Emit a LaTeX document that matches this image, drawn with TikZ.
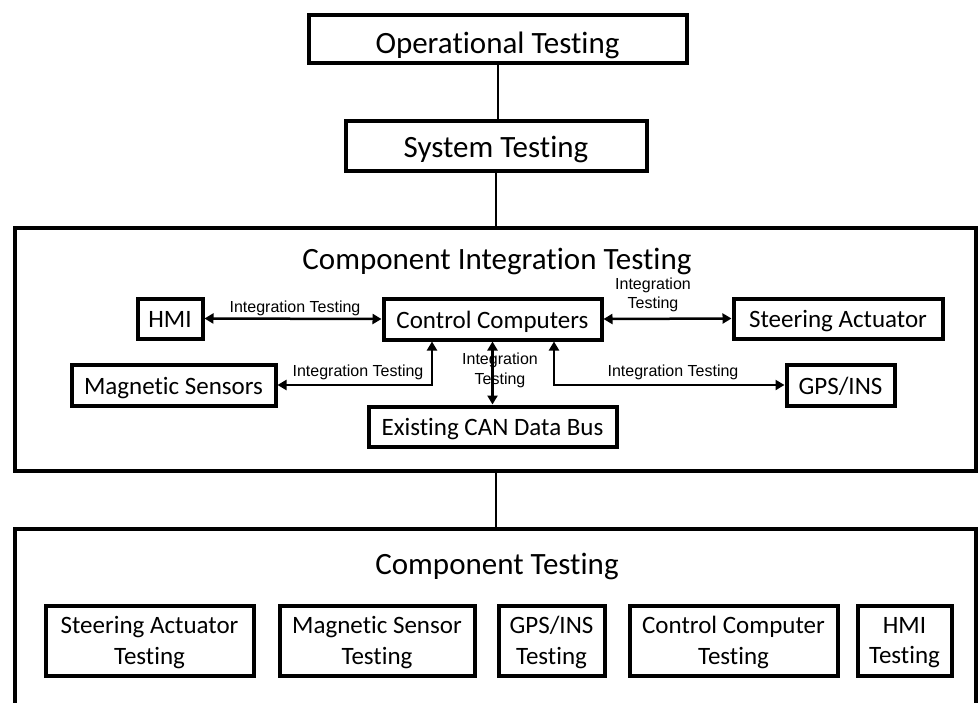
\documentclass[tikz,border=0pt]{standalone}
\usepackage{fontspec}
\setmainfont{Carlito}[Ligatures=NoCommon]
\newfontfamily\arialf{Liberation Sans}
\usetikzlibrary{arrows.meta,calc}
\begin{document}
\begin{tikzpicture}[x=1pt,y=-1pt,
  box/.style={draw,line width=4pt,inner sep=0pt,align=center,font=\fontsize{25}{30.5}\selectfont},
  onebox/.style={box,text height=20pt,text depth=2pt},
  twobox/.style={box,text depth=0pt},
  bigbox/.style={box,font=\fontsize{31}{37}\selectfont},
  frame/.style={draw,line width=4pt,inner sep=0pt},
  link/.style={line width=2pt},
  arr/.style={line width=2.5pt,{Triangle[length=9pt,width=10pt]}-{Triangle[length=9pt,width=10pt]}},
  lbl/.style={font=\arialf\fontsize{16}{19.5}\selectfont,align=center,inner sep=0pt},
  ttl/.style={font=\fontsize{31}{37}\selectfont,inner sep=0pt}]
\useasboundingbox (0,0) rectangle (979,702);
% top levels
\node[bigbox,text height=30pt,text depth=1pt,minimum width=378pt,minimum height=48pt] (op) at (497.5,38.5) {Operational Testing};
\node[bigbox,text height=25pt,text depth=2pt,minimum width=301pt,minimum height=50pt] (sys) at (496,145.5) {System Testing};
% component integration frame
\node[frame,minimum width=961pt,minimum height=243pt] (cit) at (495,349) {};
\node[ttl] (citt) at (497,261) {Component Integration Testing};
\node[onebox,minimum width=65pt,minimum height=40pt] (hmi) at (170,318.5) {HMI};
\node[onebox,minimum width=218pt,minimum height=41pt] (cc) at (492.5,319) {Control Computers};
\node[onebox,minimum width=209pt,minimum height=40pt] (sa) at (838,318.5) {Steering Actuator};
\node[onebox,minimum width=204pt,minimum height=41pt] (ms) at (173.5,385) {Magnetic Sensors};
\node[onebox,minimum width=108pt,minimum height=41pt] (gps) at (840.5,385) {GPS/INS};
\node[onebox,minimum width=248pt,minimum height=40pt] (can) at (492.5,426.5) {Existing CAN Data Bus};
% component testing frame
\node[frame,minimum width=961pt,minimum height=250pt] (ct) at (495,654) {};
\node[ttl] (ctt) at (497,566) {Component Testing};
\node[twobox,minimum width=208pt,minimum height=70pt] (sat) at (149.5,640.5) {Steering Actuator\\Testing};
\node[twobox,minimum width=195pt,minimum height=70pt] (mst) at (377,640.5) {Magnetic Sensor\\Testing};
\node[twobox,minimum width=106pt,minimum height=70pt] (gpst) at (551.5,640.5) {GPS/INS\\Testing};
\node[twobox,minimum width=208pt,minimum height=70pt] (cct) at (733.5,640.5) {Control Computer\\Testing};
\node[twobox,minimum width=94pt,minimum height=70pt] (hmit) at (904.5,640.5) {HMI\\Testing};
% hierarchy links
\draw[link] (op.south) -- (op.south |- sys.north);
\draw[link] (sys.south) -- (sys.south |- cit.north);
\draw[link] (sys.south |- cit.south) -- (sys.south |- ct.north);
% integration labels
\node[lbl] (l1) at (295,308) {Integration Testing};
\node[lbl] (l2) at (653,295) {Integration\\Testing};
\node[lbl] (l3) at (358,372) {Integration Testing};
\node[lbl] (l4) at (673,372) {Integration Testing};
\node[lbl] (l5) at (500,370.5) {Integration\\Testing};
% integration arrows
\draw[arr] (hmi.east) -- (cc.west);
\draw[arr] (cc.east) -- (sa.west);
\draw[arr] (ms.east) -| ([xshift=-60.5pt]cc.south);
\draw[arr] (gps.west) -| ([xshift=61.5pt]cc.south);
\draw[arr] (cc.south) -- (can.north);
\end{tikzpicture}
\end{document}
